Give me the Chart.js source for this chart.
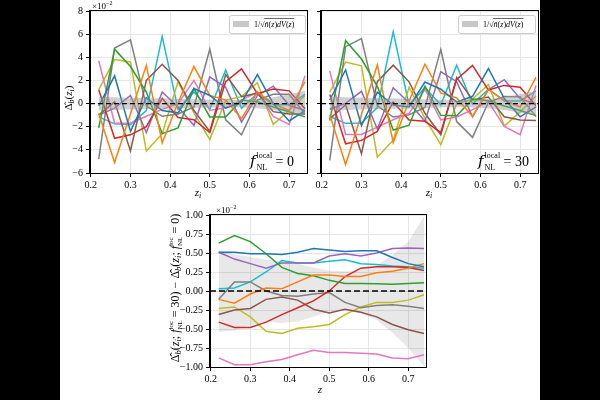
<!DOCTYPE html>
<html><head><meta charset="utf-8">
<script src="https://cdn.jsdelivr.net/npm/chart.js@4.4.1/dist/chart.umd.min.js"></script>
<style>
html,body{margin:0;padding:0;background:#000;width:600px;height:400px;overflow:hidden}
#paper{position:absolute;left:60px;top:0;width:480px;height:400px;background:#fff}
canvas{position:absolute;left:0;top:0}
</style></head><body>
<div id="paper"></div>
<canvas id="c1" width="600" height="400"></canvas>
<canvas id="c2" width="600" height="400"></canvas>
<canvas id="c3" width="600" height="400"></canvas>
<script>
// ---------- data (values in units of 1e-2) ----------
const redshift = [0.22,0.26,0.30,0.34,0.38,0.42,0.46,0.50,0.54,0.58,0.62,0.66,0.70,0.74];
const xTickValues = [0.2,0.3,0.4,0.5,0.6,0.7];
const topYTicks = [-6,-4,-2,0,2,4,6,8];
const bottomYTicks = [-1,-0.75,-0.5,-0.25,0,0.25,0.5,0.75,1];

// f_NL^local = 0
const fnl0_s0 = [-0.2, 2.4, -2.4, 0.5, -0.6, -0.8, 1.3, 0.7, -0.4, 0.1, 2.5, 0.0, -1.5, -0.6];
const fnl0_s1 = [-0.85, -5.1, -0.9, 3.3, -3.4, 0.1, 3.2, 0.7, 0.3, -1.3, 1.0, 0.0, -0.6, 1.9];
const fnl0_s2 = [-2.1, 4.7, 3.2, 1.0, -2.6, -2.1, 1.3, -1.15, -1.15, 0.3, 0.15, -0.3, -0.7, -1.15];
const fnl0_s3 = [1.2, -3.0, -2.7, -2.0, 0.45, -1.2, -1.4, -2.5, 1.9, 3.0, 0.85, 1.25, 1.1, -0.45];
const fnl0_s4 = [-1.0, -0.4, 0.7, -2.5, 1.0, -0.3, -1.9, 2.3, 1.4, -1.6, 0.7, 1.5, -0.15, -0.6];
const fnl0_s5 = [-1.0, 0.15, -4.1, 2.0, 3.4, 2.0, -0.6, -2.4, 2.5, 0.6, 0.9, -0.7, -0.9, -0.9];
const fnl0_s6 = [3.7, -1.7, -1.7, -1.1, -0.5, 0.0, 2.0, -0.6, -0.35, 0.3, 1.0, -1.1, -1.8, 2.4];
const fnl0_s7 = [-4.8, 4.8, 5.5, -0.2, -1.1, -0.9, -0.3, 4.7, -1.4, -2.7, 0.3, 0.8, 0.8, -0.9];
const fnl0_s8 = [1.2, 3.8, 3.6, -4.1, -2.6, 1.9, -0.8, -3.1, 0.3, 0.6, 1.8, -1.8, -0.6, 0.7];
const fnl0_s9 = [-1.15, -1.75, -1.8, -0.6, 5.8, -0.5, 1.0, -0.5, 2.9, -0.4, 0.9, -0.1, -0.1, 0.8];

// f_NL^local = 30
const fnl30_s0 = [0.31, 2.91, -1.91, 0.99, -0.12, -0.29, 1.86, 1.24, 0.12, 0.63, 3.03, 0.44, -1.14, -0.28];
const fnl30_s1 = [-0.96, -5.26, -0.94, 3.34, -3.37, 0.22, 3.41, 0.91, 0.49, -1.11, 1.24, 0.26, -0.30, 2.26];
const fnl30_s2 = [-1.47, 5.43, 3.85, 1.49, -2.29, -1.87, 1.50, -1.01, -1.05, 0.40, 0.25, -0.21, -0.60, -1.04];
const fnl30_s3 = [0.79, -3.48, -3.18, -2.41, 0.14, -1.42, -1.53, -2.50, 2.09, 3.30, 1.17, 1.57, 1.41, -0.18];
const fnl30_s4 = [-0.49, 0.02, 1.06, -2.20, 1.37, 0.07, -1.53, 2.76, 1.89, -1.14, 1.20, 2.06, 0.42, -0.04];
const fnl30_s5 = [-1.31, -0.10, -4.33, 1.89, 3.32, 1.88, -0.84, -2.69, 2.26, 0.32, 0.56, -1.14, -1.41, -1.46];
const fnl30_s6 = [2.82, -2.67, -2.67, -2.03, -1.40, -0.84, 1.22, -1.41, -1.16, -0.52, 0.17, -1.98, -2.69, 1.56];
const fnl30_s7 = [-4.91, 4.92, 5.62, -0.20, -1.16, -0.97, -0.34, 4.68, -1.55, -2.92, 0.11, 0.62, 0.60, -1.13];
const fnl30_s8 = [0.97, 3.59, 3.26, -4.63, -3.16, 1.41, -1.27, -3.54, -0.01, 0.39, 1.65, -1.95, -0.72, 0.65];
const fnl30_s9 = [-1.12, -1.71, -1.68, -0.35, 6.20, -0.13, 1.37, -0.11, 3.31, -0.04, 1.25, 0.23, 0.22, 1.10];

// difference (30) - (0)
const diff_s0 = [0.51,0.51,0.49,0.49,0.48,0.51,0.56,0.54,0.52,0.53,0.53,0.44,0.36,0.32];
const diff_s1 = [-0.11,-0.16,-0.04,0.04,0.03,0.12,0.21,0.21,0.19,0.19,0.24,0.26,0.30,0.36];
const diff_s2 = [0.63,0.73,0.65,0.49,0.31,0.23,0.20,0.14,0.10,0.10,0.095,0.09,0.10,0.11];
const diff_s3 = [-0.41,-0.48,-0.48,-0.41,-0.31,-0.22,-0.13,0.0,0.19,0.30,0.32,0.32,0.31,0.27];
const diff_s4 = [0.51,0.42,0.36,0.30,0.37,0.37,0.37,0.46,0.49,0.46,0.50,0.56,0.565,0.56];
const diff_s5 = [-0.31,-0.25,-0.23,-0.11,-0.08,-0.12,-0.24,-0.29,-0.24,-0.28,-0.34,-0.44,-0.51,-0.56];
const diff_s6 = [-0.88,-0.97,-0.97,-0.93,-0.90,-0.84,-0.78,-0.81,-0.81,-0.82,-0.83,-0.88,-0.89,-0.84];
const diff_s7 = [-0.11,0.12,0.12,0.0,-0.06,-0.07,-0.04,-0.02,-0.15,-0.22,-0.19,-0.18,-0.20,-0.23];
const diff_s8 = [-0.23,-0.21,-0.34,-0.53,-0.56,-0.49,-0.47,-0.44,-0.31,-0.21,-0.15,-0.15,-0.12,-0.05];
const diff_s9 = [0.03,0.04,0.12,0.25,0.40,0.37,0.37,0.39,0.41,0.36,0.35,0.33,0.32,0.30];

// noise bands 1/sqrt(n dV)
const topBandHigh = [0.6,0.55,0.5,0.47,0.45,0.42,0.38,0.33,0.3,0.33,0.4,0.55,0.8,1.1];
const topBandLow  = [-0.6,-0.55,-0.5,-0.47,-0.45,-0.42,-0.38,-0.33,-0.3,-0.33,-0.4,-0.55,-0.8,-1.05];
const bottomBandHigh = [0.53,0.48,0.45,0.41,0.39,0.36,0.31,0.27,0.26,0.28,0.34,0.47,0.65,0.98];
const bottomBandLow  = [-0.54,-0.52,-0.45,-0.40,-0.42,-0.40,-0.34,-0.27,-0.26,-0.30,-0.38,-0.55,-0.75,-0.99];

const fnl0 = [fnl0_s0,fnl0_s1,fnl0_s2,fnl0_s3,fnl0_s4,fnl0_s5,fnl0_s6,fnl0_s7,fnl0_s8,fnl0_s9];
const fnl30 = [fnl30_s0,fnl30_s1,fnl30_s2,fnl30_s3,fnl30_s4,fnl30_s5,fnl30_s6,fnl30_s7,fnl30_s8,fnl30_s9];
const diffs = [diff_s0,diff_s1,diff_s2,diff_s3,diff_s4,diff_s5,diff_s6,diff_s7,diff_s8,diff_s9];

// ---------- style ----------
const colors = ['#1f77b4','#ff7f0e','#2ca02c','#d62728','#9467bd','#8c564b','#e377c2','#7f7f7f','#bcbd22','#17becf'];
const SERIF = '"Liberation Serif","DejaVu Serif",serif';
const minus = v => (v < 0 ? '\u2212' : '') + Math.abs(v);

function pts(arr){ return arr.map((v,j)=>({x:redshift[j], y:v})); }
function lineSets(arrs, order){
  return arrs.map((a,i)=>({data:pts(a), borderColor:colors[i], backgroundColor:colors[i], borderWidth:1.5,
    pointRadius:0, fill:false, tension:0, order:order}));
}
function bandSets(lo, hi, color, order){
  return [
    {data:pts(lo), borderWidth:0, borderColor:'rgba(0,0,0,0)', pointRadius:0, fill:false, order:order},
    {data:pts(hi), borderWidth:0, borderColor:'rgba(0,0,0,0)', backgroundColor:color, pointRadius:0, fill:'-1', order:order}
  ];
}

function setFont(ctx, p){
  ctx.font = (p.it ? 'italic ' : '') + (p.size||11) + 'px ' + (p.fam || SERIF);
}
function richWidth(ctx, parts){
  let w = 0;
  for (const p of parts){
    if (p.stack){ let m=0; for (const q of p.stack){ setFont(ctx,q); m=Math.max(m,ctx.measureText(q.t).width);} w+=m; }
    else { setFont(ctx,p); w += ctx.measureText(p.t).width + (p.sp||0); }
  }
  return w;
}
function rich(ctx, x, y, parts, align){
  const w = richWidth(ctx, parts);
  let cx = align==='center' ? x - w/2 : (align==='right' ? x - w : x);
  ctx.textAlign='left'; ctx.textBaseline='alphabetic'; ctx.fillStyle='#000';
  for (const p of parts){
    if (p.stack){
      let m=0;
      for (const q of p.stack){ setFont(ctx,q); ctx.fillText(q.t, cx, y+(q.dy||0)); m=Math.max(m,ctx.measureText(q.t).width); }
      cx += m;
    } else {
      setFont(ctx,p); ctx.fillText(p.t, cx, y+(p.dy||0)); cx += ctx.measureText(p.t).width + (p.sp||0);
    }
  }
  return w;
}

function drawLegend(ctx, left, top, right, bottom){
  ctx.save();
  ctx.beginPath();
  if (ctx.roundRect) ctx.roundRect(left+0.5, top+0.5, right-left, bottom-top, 2); else ctx.rect(left+0.5, top+0.5, right-left, bottom-top);
  ctx.fillStyle='rgba(255,255,255,0.85)'; ctx.fill();
  ctx.strokeStyle='#cccccc'; ctx.lineWidth=1; ctx.stroke();
  const cy = (top+bottom)/2;
  ctx.fillStyle='#c8c8c8';
  ctx.fillRect(left+4, cy-3, 16, 6);
  let x = left+25;
  ctx.fillStyle='#000'; ctx.textBaseline='alphabetic'; ctx.textAlign='left';
  ctx.font='8px '+SERIF;
  ctx.fillText('1/\u221A', x, cy+3);
  x += ctx.measureText('1/\u221A').width;
  const w = rich(ctx, x, cy+3, [{t:'n\u0304',it:true,size:8},{t:'(',size:8},{t:'z',it:true,size:8},{t:')',size:8},{t:'dV',it:true,size:8},{t:'(',size:8},{t:'z',it:true,size:8},{t:')',size:8}], 'left');
  ctx.strokeStyle='#000'; ctx.lineWidth=0.6;
  ctx.beginPath(); ctx.moveTo(x-0.5, cy-5.5); ctx.lineTo(x+w, cy-5.5); ctx.stroke();
  ctx.restore();
}

function fnlLabel(ctx, x, y, val){
  rich(ctx, x, y, [
    {t:'f', it:true, size:15, fam:'"DejaVu Serif",serif', sp:1},
    {stack:[{t:'local', size:8, dy:-8},{t:'NL', size:8, dy:4}]},
    {t:' = '+val, size:14}
  ], 'left');
}

function makeScales(cfg){
  return {
    x:{type:'linear', min:0.198, max:0.745,
      afterBuildTicks: s=>{ s.ticks = xTickValues.map(v=>({value:v})); },
      afterFit: s=>{ s.height = 20; },
      ticks:{callback:v=>Number(v).toFixed(1), color:'#000', font:{family:SERIF,size:10}, padding:2, maxRotation:0, autoSkip:false},
      grid:{color:'#e6e6e6', tickColor:'#000', tickLength:4, drawTicks:true},
      border:{display:true, color:'#000'}},
    y:{type:'linear', min:cfg.ymin, max:cfg.ymax,
      afterBuildTicks: s=>{ s.ticks = cfg.yticks.map(v=>({value:v})); },
      afterFit: s=>{ s.width = cfg.yw; },
      ticks:{display:cfg.ylabels, callback:cfg.yfmt, color:'#000', font:{family:SERIF,size:10}, padding:3, autoSkip:false},
      grid:{color:'#e6e6e6', tickColor:'#000', tickLength:4, drawTicks:true},
      border:{display:true, color:'#000'}}
  };
}

function decoPlugin(opts){
  return {
    id:'deco',
    afterDatasetsDraw(chart){
      const ctx = chart.ctx, a = chart.chartArea, y0 = chart.scales.y.getPixelForValue(0);
      ctx.save();
      ctx.strokeStyle='#000'; ctx.lineWidth=opts.dashW; ctx.setLineDash(opts.dash);
      ctx.beginPath(); ctx.moveTo(a.left, y0); ctx.lineTo(a.right, y0); ctx.stroke();
      ctx.restore();
    },
    afterDraw(chart){
      const ctx = chart.ctx, a = chart.chartArea;
      ctx.save();
      ctx.strokeStyle='#000'; ctx.lineWidth=1; ctx.setLineDash([]);
      ctx.strokeRect(Math.round(a.left)-0.5, Math.round(a.top)-0.5, Math.round(a.right-a.left)+1, Math.round(a.bottom-a.top)+1);
      opts.draw(ctx, a);
      ctx.restore();
    }
  };
}

const topFmt = v => minus(v);
const botFmt = v => (v<0?'\u2212':'') + Math.abs(v).toFixed(2);

// ---------- top-left ----------
new Chart(document.getElementById('c1'), {
  type:'line',
  data:{datasets:[...lineSets(fnl0, 1), ...bandSets(topBandLow, topBandHigh, 'rgba(150,150,150,0.45)', -1)]},
  options:{responsive:false, animation:false, devicePixelRatio:1,
    layout:{padding:{left:60, right:293, top:11, bottom:207}},
    plugins:{legend:{display:false}, tooltip:{enabled:false}},
    scales:makeScales({ymin:-6, ymax:8, yticks:topYTicks, yw:30, ylabels:true, yfmt:topFmt})},
  plugins:[decoPlugin({dashW:1.3, dash:[5,3], draw:(ctx,a)=>{
    rich(ctx, 92, 9, [{t:'\u00D710', size:9},{t:'\u22122', size:6, dy:-4}], 'left');
    drawLegend(ctx, 229, 15, 305, 33);
    fnlLabel(ctx, 250, 166, '0');
    rich(ctx, 198, 196, [{t:'z', it:true, size:11},{t:'i', it:true, size:8, dy:2}], 'center');
    ctx.save(); ctx.translate(72, 98); ctx.rotate(-Math.PI/2);
    rich(ctx, 0, 0, [{t:'\u0394\u0302', size:11},{t:'b', it:true, size:8, dy:2},{t:'(', size:11},{t:'z', it:true, size:11},{t:'i', it:true, size:8, dy:2},{t:')', size:11}], 'center');
    ctx.restore();
  }})]
});

// ---------- top-right ----------
new Chart(document.getElementById('c2'), {
  type:'line',
  data:{datasets:[...lineSets(fnl30, 1), ...bandSets(topBandLow, topBandHigh, 'rgba(150,150,150,0.45)', -1)]},
  options:{responsive:false, animation:false, devicePixelRatio:1,
    layout:{padding:{left:311, right:62, top:11, bottom:207}},
    plugins:{legend:{display:false}, tooltip:{enabled:false}},
    scales:makeScales({ymin:-6, ymax:8, yticks:topYTicks, yw:10, ylabels:false, yfmt:topFmt})},
  plugins:[decoPlugin({dashW:1.3, dash:[5,3], draw:(ctx,a)=>{
    drawLegend(ctx, 458, 15, 535, 33);
    fnlLabel(ctx, 478, 166, '30');
    rich(ctx, 429, 196, [{t:'z', it:true, size:11},{t:'i', it:true, size:8, dy:2}], 'center');
  }})]
});

// ---------- bottom ----------
new Chart(document.getElementById('c3'), {
  type:'line',
  data:{datasets:[...lineSets(diffs, 1), ...bandSets(bottomBandLow, bottomBandHigh, 'rgba(0,0,0,0.09)', 100)]},
  options:{responsive:false, animation:false, devicePixelRatio:1,
    layout:{padding:{left:175, right:174, top:215, bottom:13}},
    plugins:{legend:{display:false}, tooltip:{enabled:false}},
    scales:makeScales({ymin:-1, ymax:1, yticks:bottomYTicks, yw:35, ylabels:true, yfmt:botFmt})},
  plugins:[decoPlugin({dashW:1.6, dash:[6,3], draw:(ctx,a)=>{
    rich(ctx, 216, 213, [{t:'\u00D710', size:9},{t:'\u22122', size:6, dy:-4}], 'left');
    rich(ctx, 320, 393, [{t:'z', it:true, size:11}], 'center');
    ctx.save(); ctx.translate(179, 288); ctx.rotate(-Math.PI/2);
    const fpart = {stack:[{t:'loc', size:7, dy:-6},{t:'NL', size:7, dy:3}]};
    rich(ctx, 0, 0, [
      {t:'\u0394\u0302', size:12},{t:'b', it:true, size:8.5, dy:2},{t:'(', size:12},{t:'z', it:true, size:12},{t:'i', it:true, size:8.5, dy:2},
      {t:'; ', size:12},{t:'f', it:true, size:12}, fpart, {t:' = 30) \u2212 ', size:12},
      {t:'\u0394\u0302', size:12},{t:'b', it:true, size:8.5, dy:2},{t:'(', size:12},{t:'z', it:true, size:12},{t:'i', it:true, size:8.5, dy:2},
      {t:'; ', size:12},{t:'f', it:true, size:12}, fpart, {t:' = 0)', size:12}
    ], 'center');
    ctx.restore();
  }})]
});
</script>
</body></html>
